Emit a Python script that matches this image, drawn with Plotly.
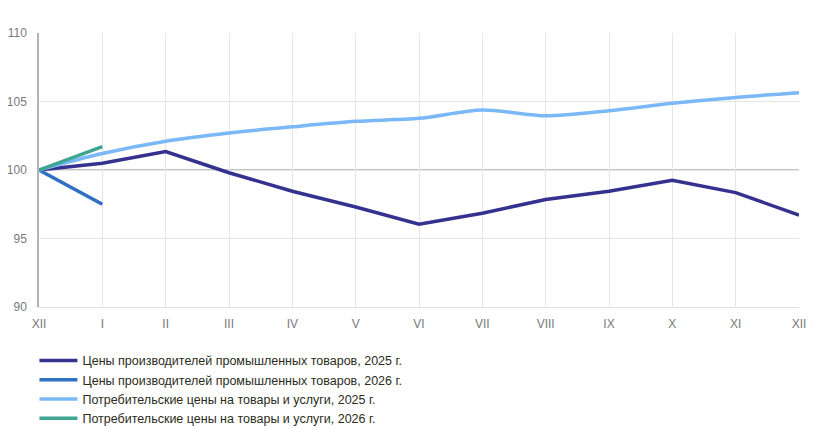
import plotly.graph_objects as go

months = ["XII", "I", "II", "III", "IV", "V", "VI", "VII", "VIII", "IX", "X", "XI", "XII"]

ppi_2025 = [100, 100.5, 101.35, 99.8, 98.45, 97.3, 96.05, 96.85, 97.85, 98.45, 99.25, 98.35, 96.7]
ppi_2026 = [100, 97.5]
cpi_2025 = [100, 101.2, 102.1, 102.7, 103.15, 103.55, 103.77, 104.38, 103.96, 104.33, 104.87, 105.3, 105.64]
cpi_2026 = [100, 101.7]

pos = list(range(len(months)))

fig = go.Figure()
fig.add_trace(go.Scatter(x=pos, y=ppi_2025, mode="lines",
                         name="Цены производителей промышленных товаров, 2025 г.",
                         line=dict(color="#35318f", width=3.5)))
fig.add_trace(go.Scatter(x=pos[:len(ppi_2026)], y=ppi_2026, mode="lines",
                         name="Цены производителей промышленных товаров, 2026 г.",
                         line=dict(color="#2f6fc4", width=3.5)))
fig.add_trace(go.Scatter(x=pos, y=cpi_2025, mode="lines",
                         name="Потребительские цены на товары и услуги, 2025 г.",
                         line=dict(color="#7ab8f7", width=3.5, shape="spline", smoothing=0.8)))
fig.add_trace(go.Scatter(x=pos[:len(cpi_2026)], y=cpi_2026, mode="lines",
                         name="Потребительские цены на товары и услуги, 2026 г.",
                         line=dict(color="#3fa593", width=3.5)))

# reference line at 100
fig.add_hline(y=100, line=dict(color="#b0b0b0", width=1.3), layer="below")

# page body has an 8px margin, so the figure is a bit smaller than the window
fig.update_layout(
    width=818, height=421,
    margin=dict(l=31, r=27, t=25, b=122, autoexpand=False),
    plot_bgcolor="white", paper_bgcolor="white",
    font=dict(family="Liberation Sans, Arial, sans-serif", size=12, color="#7a7a7a"),
    showlegend=True,
    legend=dict(x=-0.006, y=-0.142, xanchor="left", yanchor="top",
                font=dict(size=12.5, color="#2b2b1a"),
                tracegroupgap=0, itemwidth=38, bgcolor="rgba(0,0,0,0)"),
)
fig.update_xaxes(range=[0, 12], tickmode="array", tickvals=pos, ticktext=months,
                 showgrid=True, gridcolor="#e6e6e6", gridwidth=1,
                 showline=True, linecolor="#e0e0e0", linewidth=1,
                 zeroline=False, ticks="", ticklen=0, ticklabelstandoff=6,
                 automargin=False)
fig.update_yaxes(range=[90, 110], tickvals=[90, 95, 100, 105, 110],
                 showgrid=True, gridcolor="#e6e6e6", gridwidth=1,
                 showline=True, linecolor="#b4b4b4", linewidth=1.5,
                 zeroline=False, ticks="", ticklen=0, ticklabelstandoff=8,
                 automargin=False)

fig.write_html("out.html")
